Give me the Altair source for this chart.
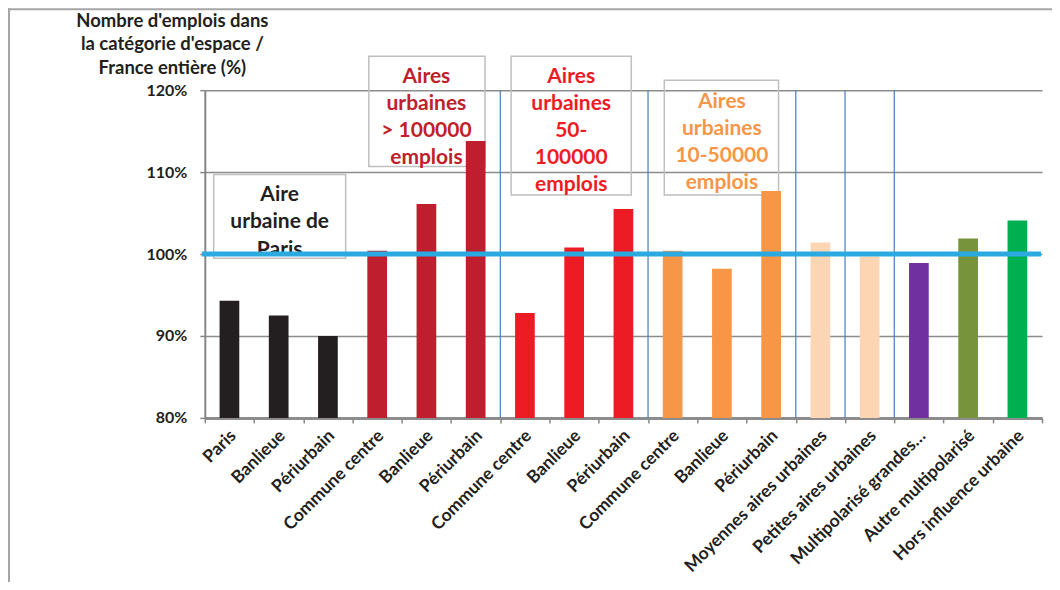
import json
import altair as alt
import pandas as pd

# ---------------- data ----------------
categories = ["Paris", "Banlieue", "Périurbain",
              "Commune centre", "Banlieue", "Périurbain",
              "Commune centre", "Banlieue", "Périurbain",
              "Commune centre", "Banlieue", "Périurbain",
              "Moyennes aires urbaines", "Petites aires urbaines",
              "Multipolarisé grandes…", "Autre multipolarisé",
              "Hors influence urbaine"]
values = [94.3, 92.5, 90.0,
          100.4, 106.1, 113.8,
          92.8, 100.8, 105.5,
          100.4, 98.2, 107.7,
          101.4, 99.7,
          98.9, 101.9, 104.1]
bar_colors = ["#231F20", "#231F20", "#231F20",
              "#BE1E2D", "#BE1E2D", "#BE1E2D",
              "#ED1C24", "#ED1C24", "#ED1C24",
              "#F79646", "#F79646", "#F79646",
              "#FCD5B5", "#FCD5B5",
              "#7030A0", "#77933C", "#00B050"]
y_ticks = [80, 90, 100, 110, 120]
reference_value = 100
separator_positions = [6, 9, 12, 13, 14]   # category boundaries

# annotation boxes (in category units / % units)
box_x = [0.18, 3.33, 6.22, 9.33]
box_x2 = [2.86, 5.69, 8.66, 11.65]
box_y = [109.7, 124.15, 124.15, 121.2]
box_y2 = [99.5, 110.7, 107.2, 107.2]
box_lines = [["Aire", "urbaine de", "Paris"],
             ["Aires", "urbaines", "> 100000", "emplois"],
             ["Aires", "urbaines", "50-", "100000", "emplois"],
             ["Aires", "urbaines", "10-50000", "emplois"]]
box_text_x = [1.52, 4.50, 7.44, 10.50]
box_text_top = [107.15, 121.65, 121.65, 118.55]
box_text_colors = ["#231F20", "#C0202A", "#ED1C24", "#F79646"]
line_step = 3.3  # % units between lines

y_title = ["Nombre d'emplois dans", "la catégorie d'espace /", "France entière (%)"]

# ---------------- tables ----------------
keys = [f"{i:02d}" for i in range(len(categories))]
df = pd.DataFrame({"key": keys, "value": values, "color": bar_colors})
df_sep = pd.DataFrame({"pos": separator_positions})
df_ticks = pd.DataFrame({"pos": list(range(len(categories) + 1)), "v": [80] * (len(categories) + 1)})
df_box = pd.DataFrame({"x": box_x, "x2": box_x2, "y": box_y, "y2": box_y2})
rows = []
for bi, lines in enumerate(box_lines):
    for li, t in enumerate(lines):
        rows.append({"x": box_text_x[bi], "y": box_text_top[bi] - li * line_step,
                     "text": t, "color": box_text_colors[bi]})
df_text = pd.DataFrame(rows)

W, H = 838, 328
FONT = "Lato"
n = len(categories)

label_expr = json.dumps(categories, ensure_ascii=False) + "[toNumber(datum.value)]"
yscale = alt.Scale(domain=[80, 120], nice=False, zero=False)
qscale = alt.Scale(domain=[0, n], nice=False, zero=False)

yaxis = alt.Axis(values=y_ticks, labelExpr="datum.value + '%'",
                 title=y_title, titleAngle=0, titleAlign="center",
                 titleBaseline="top", titleX=-33, titleY=-79,
                 titleFont=FONT, titleFontSize=18.5, titleFontWeight="bold",
                 titleLineHeight=23.5, titleColor="#231F20",
                 labelFont=FONT, labelFontSize=16, labelFontWeight="bold",
                 labelColor="#231F20", labelPadding=13,
                 tickSize=5, tickColor="#868686", tickWidth=1.5,
                 domainColor="#868686", domainWidth=2,
                 gridColor="#8C8C8C", gridWidth=1.5)

# invisible layer that carries the y axis, grid and the boundary ticks of x
axes_layer = alt.Chart(df_ticks).mark_point(opacity=0).encode(
    x=alt.X("pos:Q", scale=qscale,
            axis=alt.Axis(orient="bottom", values=list(range(n + 1)), labels=False,
                          title=None, domain=False, grid=False, tickSize=5,
                          tickColor="#868686", tickWidth=1.5)),
    y=alt.Y("v:Q", scale=yscale, axis=yaxis),
)

bars = alt.Chart(df).mark_bar().encode(
    x=alt.X("key:N", sort=keys,
            scale=alt.Scale(paddingInner=0.6, paddingOuter=0.3),
            axis=alt.Axis(title=None, orient="bottom", labelExpr=label_expr,
                          labelAngle=-45, labelAlign="right", labelBaseline="middle",
                          labelFont=FONT, labelFontSize=17.5, labelFontWeight="bold",
                          labelColor="#231F20", labelPadding=15, labelOffset=4,
                          labelLimit=400, labelOverlap=False,
                          ticks=False, grid=False,
                          domainColor="#8C8C8C", domainWidth=3)),
    y=alt.Y("value:Q", scale=yscale, axis=None),
    y2=alt.datum(80),
    color=alt.Color("color:N", scale=None),
)

boxes = alt.Chart(df_box).mark_rect(fill=None, stroke="#BFBFBF", strokeWidth=1.5).encode(
    x=alt.X("x:Q", scale=qscale, axis=None),
    x2="x2:Q",
    y=alt.Y("y:Q", scale=yscale, axis=None),
    y2="y2:Q",
)

seps = alt.Chart(df_sep).mark_rule(color="#4A7EBB", strokeWidth=1.2).encode(
    x=alt.X("pos:Q", scale=qscale, axis=None),
    y=alt.Y(datum=80, scale=yscale, axis=None),
    y2=alt.Y2(datum=120),
)

texts = alt.Chart(df_text).mark_text(font=FONT, fontSize=21, fontWeight="bold",
                                     align="center", baseline="middle").encode(
    x=alt.X("x:Q", scale=qscale, axis=None),
    y=alt.Y("y:Q", scale=yscale, axis=None),
    text="text:N",
    color=alt.Color("color:N", scale=None),
)

ref_line = alt.Chart(pd.DataFrame({"v": [reference_value]})).mark_rule(
    color="#2AAAE1", strokeWidth=5).encode(
    y=alt.Y("v:Q", scale=yscale, axis=None),
    x=alt.value(-3), x2=alt.value(W - 1),
)

frame_left = alt.Chart(pd.DataFrame({"a": [0]})).mark_rule(
    color="#A6A6A6", strokeWidth=2).encode(
    x=alt.value(-196), y=alt.value(-82), y2=alt.value(H + 200))
frame_top = alt.Chart(pd.DataFrame({"a": [0]})).mark_rule(
    color="#A6A6A6", strokeWidth=2).encode(
    x=alt.value(-197), x2=alt.value(W + 30), y=alt.value(-81))

chart = alt.layer(
    axes_layer, boxes, bars, seps, texts, ref_line, frame_left, frame_top
).resolve_scale(x="independent").resolve_axis(x="independent", y="independent").properties(
    width=W, height=H,
    autosize=alt.AutoSizeParams(type="none"),
    padding={"left": 197, "top": 82, "right": 10, "bottom": 164},
).configure_view(stroke=None)

chart.save("out.html", embed_options={"renderer": "svg", "actions": False})
